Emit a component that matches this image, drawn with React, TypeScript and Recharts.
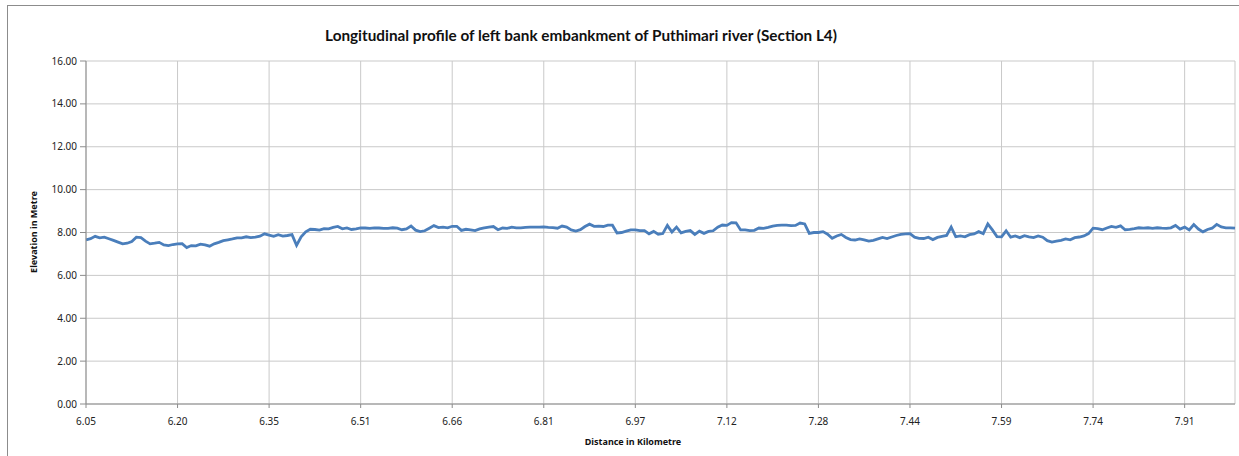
import React from "react";
import {
  LineChart,
  Line,
  XAxis,
  YAxis,
  CartesianGrid,
} from "recharts";

// distance labels shown every 20 readings (Excel category axis)
const tickLabels = [
  "6.05", "6.20", "6.35", "6.51", "6.66", "6.81", "6.97",
  "7.12", "7.28", "7.44", "7.59", "7.74", "7.91",
];
const labelStep = 20;

const yTicks = [0, 2, 4, 6, 8, 10, 12, 14, 16];

// embankment crest elevation (m)
const elevation = [
  7.66, 7.71, 7.82, 7.75, 7.78, 7.71, 7.63, 7.55, 7.47, 7.5,
  7.58, 7.78, 7.76, 7.6, 7.47, 7.5, 7.54, 7.42, 7.39, 7.44,
  7.47, 7.48, 7.3, 7.39, 7.38, 7.46, 7.42, 7.36, 7.47, 7.54,
  7.62, 7.66, 7.7, 7.75, 7.75, 7.8, 7.76, 7.78, 7.83, 7.94,
  7.88, 7.82, 7.9, 7.83, 7.86, 7.9, 7.4, 7.8, 8.03, 8.15,
  8.14, 8.11, 8.18, 8.17, 8.24, 8.28, 8.17, 8.21, 8.14, 8.17,
  8.21, 8.21, 8.19, 8.22, 8.21, 8.19, 8.19, 8.22, 8.2, 8.13,
  8.17, 8.3, 8.11, 8.04, 8.08, 8.2, 8.32, 8.23, 8.25, 8.22,
  8.29, 8.29, 8.1, 8.15, 8.12, 8.09, 8.17, 8.21, 8.25, 8.28,
  8.13, 8.21, 8.19, 8.25, 8.22, 8.22, 8.24, 8.25, 8.25, 8.25,
  8.26, 8.24, 8.23, 8.2, 8.3, 8.25, 8.12, 8.07, 8.13, 8.28,
  8.39, 8.29, 8.3, 8.28, 8.34, 8.34, 7.98, 8.0, 8.06, 8.12,
  8.12, 8.09, 8.09, 7.94, 8.05, 7.92, 7.95, 8.33, 8.02, 8.25,
  7.98, 8.05, 8.09, 7.91, 8.06, 7.96, 8.05, 8.08, 8.25, 8.35,
  8.33, 8.46, 8.45, 8.12, 8.12, 8.09, 8.1, 8.21, 8.19, 8.24,
  8.3, 8.33, 8.34, 8.34, 8.32, 8.33, 8.44, 8.4, 7.96, 8.0,
  8.0, 8.04, 7.92, 7.73, 7.84, 7.91, 7.77, 7.67, 7.65, 7.7,
  7.66, 7.6, 7.63, 7.7, 7.77, 7.72, 7.79, 7.86, 7.91, 7.94,
  7.95, 7.78, 7.73, 7.72, 7.78, 7.67, 7.77, 7.82, 7.86, 8.25,
  7.8, 7.84, 7.8, 7.9, 7.93, 8.04, 7.95, 8.4, 8.12, 7.81,
  7.8, 8.08, 7.78, 7.84, 7.76, 7.85, 7.8, 7.76, 7.84, 7.78,
  7.62, 7.55, 7.6, 7.63, 7.7, 7.66, 7.76, 7.79, 7.84, 7.95,
  8.2, 8.18, 8.13, 8.21, 8.28, 8.24, 8.31, 8.13, 8.15, 8.18,
  8.22, 8.2, 8.22, 8.19, 8.22, 8.2, 8.19, 8.22, 8.33, 8.16,
  8.25, 8.12, 8.37, 8.16, 8.03, 8.14, 8.2, 8.38, 8.26, 8.22,
  8.22, 8.2,
];

const tickFont = { fontFamily: "Noto Sans", fontSize: 10, fill: "#222" };

export default function App() {
  const data = React.useMemo(
    () => elevation.map((v, i) => ({ i, v })),
    []
  );
  const xTicks = tickLabels.map((_, k) => k * labelStep);

  return (
    <div
      style={{
        position: "absolute",
        left: 7,
        top: 5,
        width: 1240,
        height: 460,
        border: "1px solid #8c8c8c",
        background: "#fff",
      }}
    >
      <div
        style={{
          position: "absolute",
          left: 173,
          top: 20,
          width: 800,
          textAlign: "center",
          fontFamily: "Lato",
          fontWeight: "bold",
          fontSize: 15.3,
          color: "#111",
        }}
      >
        Longitudinal profile of left bank embankment of Puthimari river (Section L4)
      </div>
      <div
        style={{
          position: "absolute",
          left: 26 - 60,
          top: 226 - 6,
          width: 120,
          textAlign: "center",
          transform: "rotate(-90deg)",
          fontFamily: "Noto Sans",
          fontWeight: "bold",
          fontSize: 9,
          lineHeight: "12px",
          color: "#111",
        }}
      >
        Elevation in Metre
      </div>
      <div
        style={{
          position: "absolute",
          left: 625 - 100,
          top: 429,
          width: 200,
          textAlign: "center",
          fontFamily: "Noto Sans",
          fontWeight: "bold",
          fontSize: 9,
          color: "#111",
        }}
      >
        Distance in Kilometre
      </div>
      <LineChart
        width={1240}
        height={450}
        data={data}
        margin={{ top: 55, right: 13, bottom: 22, left: 0 }}
      >
        <CartesianGrid stroke="#c9c9c9" strokeWidth={1} />
        <XAxis
          dataKey="i"
          type="category"
          ticks={xTicks}
          interval={0}
          height={30}
          tickFormatter={(i: number) => tickLabels[i / labelStep]}
          tick={tickFont}
          tickSize={4}
          tickMargin={10}
          stroke="#8c8c8c"
        />
        <YAxis
          type="number"
          domain={[0, 16]}
          ticks={yTicks}
          width={78}
          tickFormatter={(v: number) => v.toFixed(2)}
          tick={tickFont}
          tickSize={6}
          tickMargin={3}
          stroke="#8c8c8c"
        />
        <Line
          type="linear"
          dataKey="v"
          stroke="#4a7ebb"
          strokeWidth={2.8}
          dot={false}
          isAnimationActive={false}
        />
      </LineChart>
    </div>
  );
}
